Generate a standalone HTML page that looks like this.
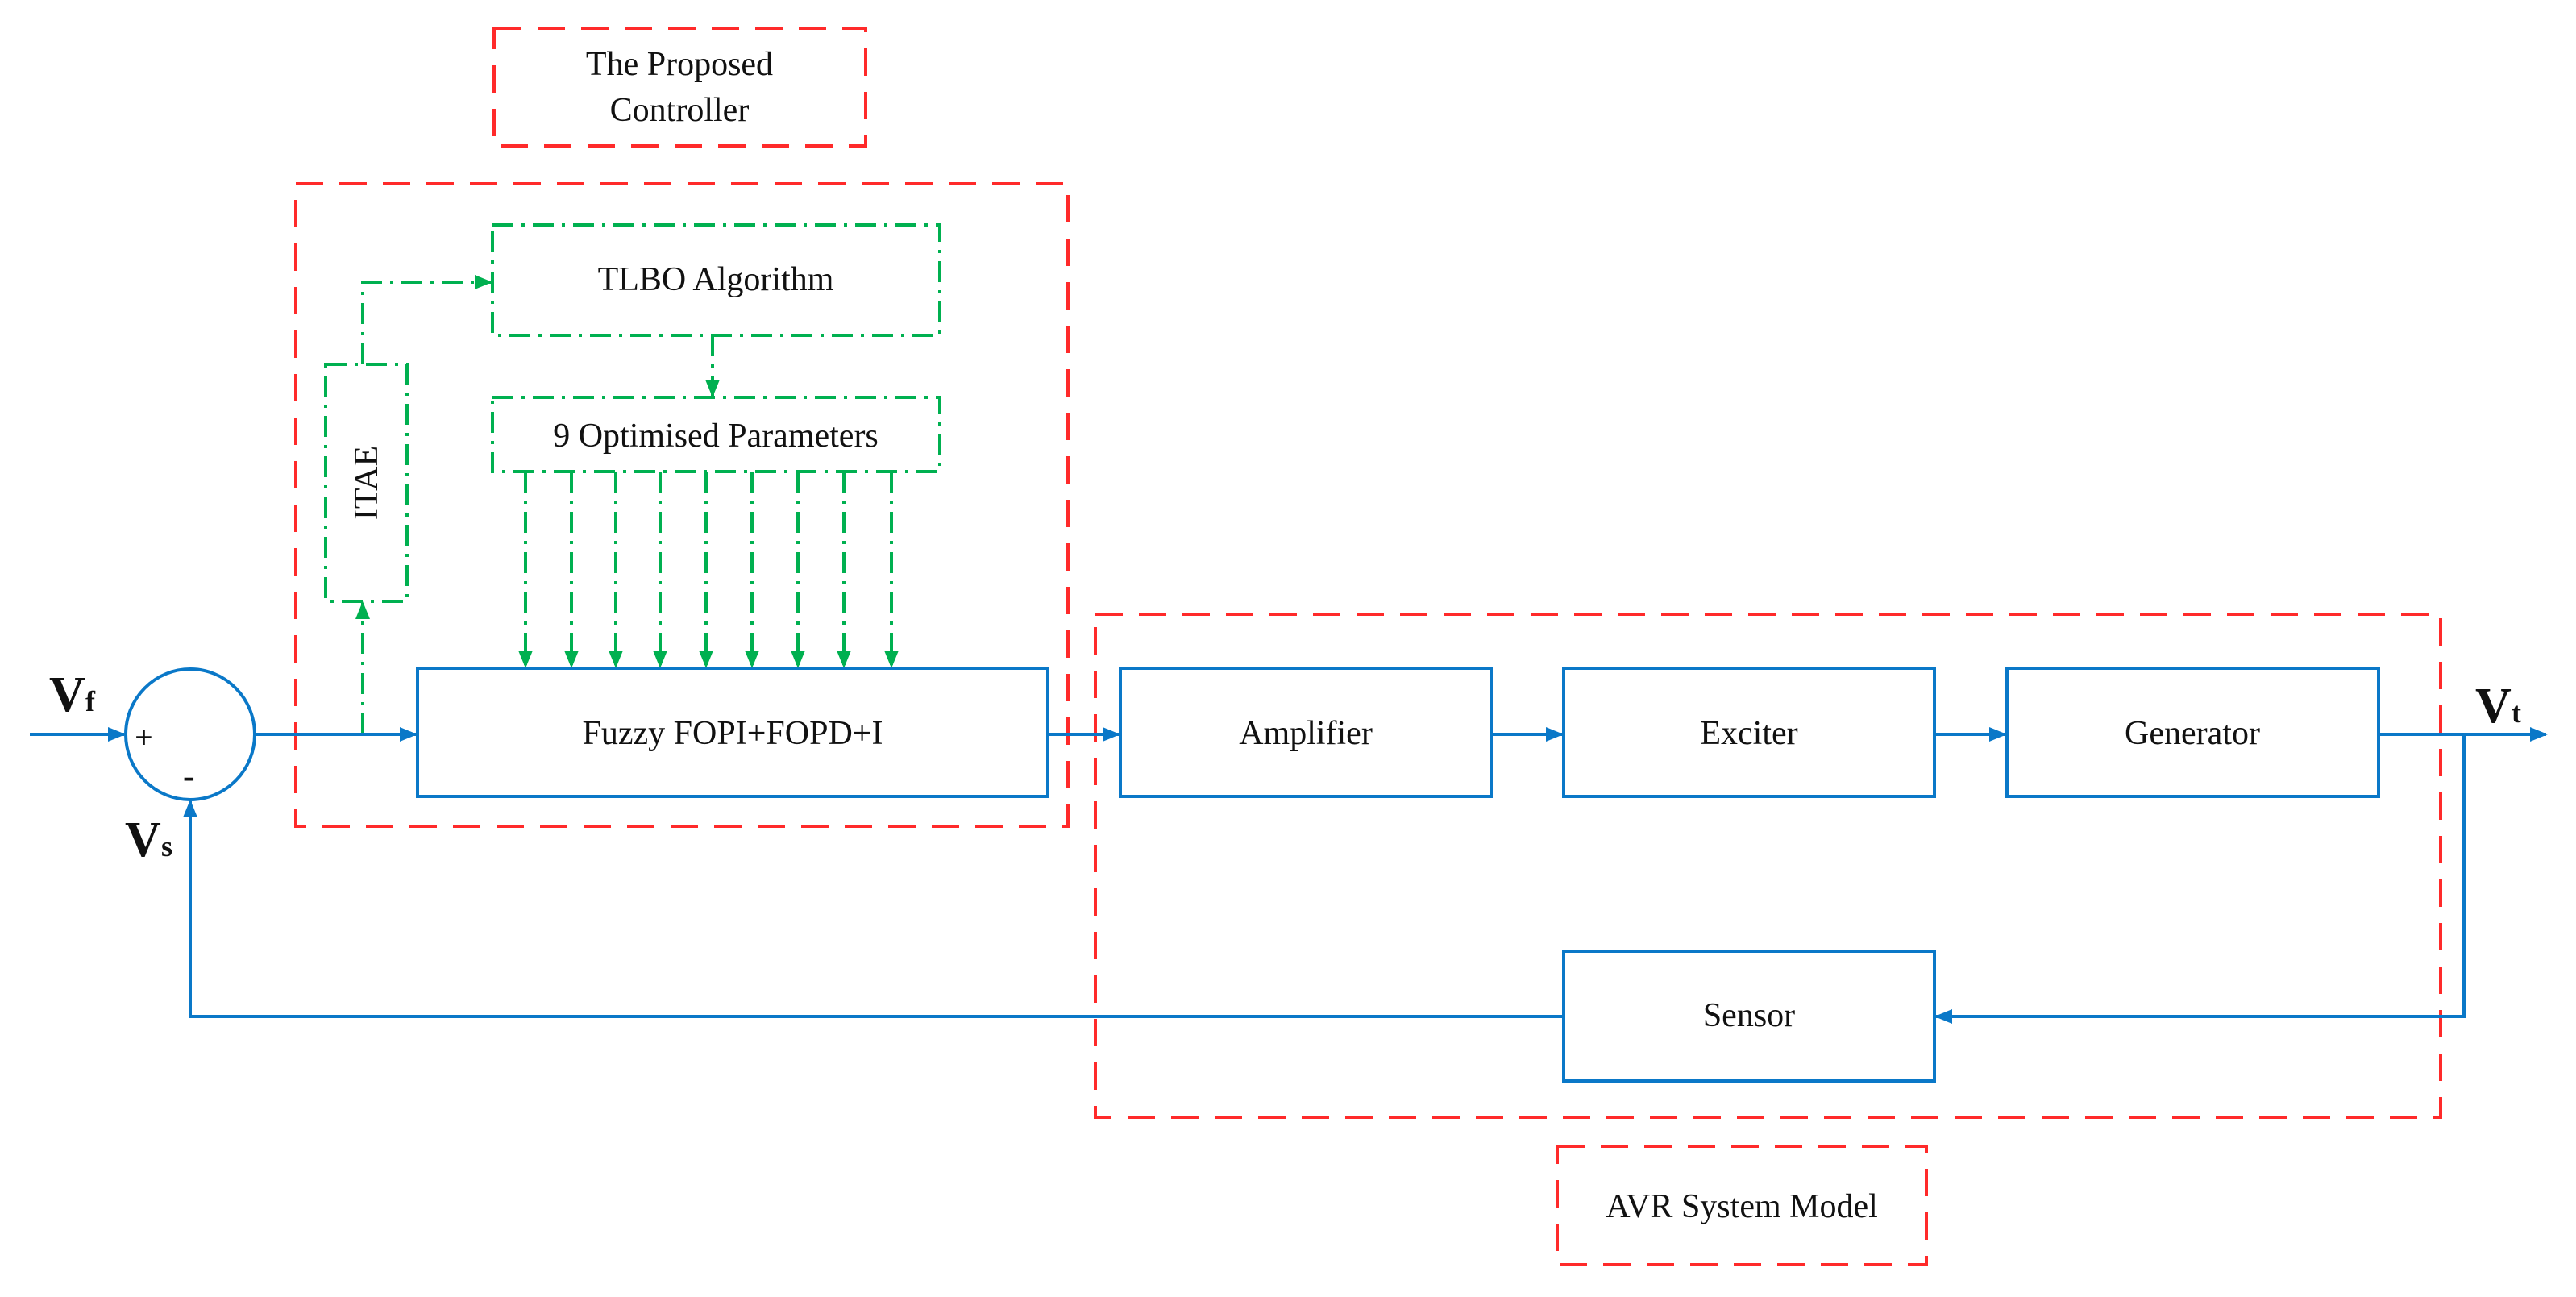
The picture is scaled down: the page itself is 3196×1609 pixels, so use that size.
<!DOCTYPE html>
<html><head><meta charset="utf-8"><style>
html,body{margin:0;padding:0;background:#fff;}
svg{display:block;}
text{font-family:"Liberation Serif",serif;fill:#111;}
</style></head><body>
<svg width="3196" height="1609" viewBox="0 0 3196 1609" xmlns="http://www.w3.org/2000/svg">
<defs>
<marker id="abb" markerWidth="22" markerHeight="22" refX="20" refY="11" orient="auto" markerUnits="userSpaceOnUse"><path d="M0,2 L22,11 L0,20 z" fill="#0a78c8"/></marker>
<marker id="ag" markerWidth="22" markerHeight="22" refX="20" refY="11" orient="auto" markerUnits="userSpaceOnUse"><path d="M0,2 L22,11 L0,20 z" fill="#00b050"/></marker>
</defs>
<g fill="none" stroke="#ff2a2a" stroke-width="4" stroke-dasharray="34,20">
<rect x="613" y="35" width="461" height="146"/>
<rect x="367" y="228" width="958" height="797"/>
<rect x="1359" y="762" width="1669" height="624"/>
<rect x="1932" y="1422" width="458" height="147"/>
</g>
<g fill="none" stroke="#00b050" stroke-width="4" stroke-dasharray="26,10,4,10">
<rect x="611" y="279" width="555" height="137"/>
<rect x="611" y="493" width="555" height="92"/>
<rect x="404" y="452" width="101" height="294"/>
<path d="M450,911 V748" marker-end="url(#ag)"/>
<path d="M450,452 V350 H609" marker-end="url(#ag)"/>
<path d="M884,416 V491" marker-end="url(#ag)"/>
<path d="M652,585 V827" marker-end="url(#ag)"/>
<path d="M709,585 V827" marker-end="url(#ag)"/>
<path d="M764,585 V827" marker-end="url(#ag)"/>
<path d="M819,585 V827" marker-end="url(#ag)"/>
<path d="M876,585 V827" marker-end="url(#ag)"/>
<path d="M933,585 V827" marker-end="url(#ag)"/>
<path d="M990,585 V827" marker-end="url(#ag)"/>
<path d="M1047,585 V827" marker-end="url(#ag)"/>
<path d="M1106,585 V827" marker-end="url(#ag)"/>
</g>
<g fill="none" stroke="#0a78c8" stroke-width="4">
<rect x="518" y="829" width="782" height="159"/>
<rect x="1390" y="829" width="460" height="159"/>
<rect x="1940" y="829" width="460" height="159"/>
<rect x="2490" y="829" width="461" height="159"/>
<rect x="1940" y="1180" width="460" height="161"/>
<ellipse cx="236" cy="911" rx="80" ry="81"/>
<path d="M37,911 H154" marker-end="url(#abb)"/>
<path d="M316,911 H516" marker-end="url(#abb)"/>
<path d="M1300,911 H1388" marker-end="url(#abb)"/>
<path d="M1850,911 H1938" marker-end="url(#abb)"/>
<path d="M2400,911 H2488" marker-end="url(#abb)"/>
<path d="M2951,911 H3159" marker-end="url(#abb)"/>
<path d="M3057,911 V1261 H2402" marker-end="url(#abb)"/>
<path d="M1940,1261 H236 V994" marker-end="url(#abb)"/>
</g>
<g font-size="42" text-anchor="middle">
<text x="843" y="93">The Proposed</text>
<text x="843" y="150">Controller</text>
<text x="888" y="360">TLBO Algorithm</text>
<text x="888" y="554">9 Optimised Parameters</text>
<text x="909" y="923">Fuzzy FOPI+FOPD+I</text>
<text x="1620" y="923">Amplifier</text>
<text x="2170" y="923">Exciter</text>
<text x="2720" y="923">Generator</text>
<text x="2170" y="1273">Sensor</text>
<text x="2161" y="1510">AVR System Model</text>
<text transform="translate(468,599) rotate(-90)">ITAE</text>
</g>
<g font-weight="bold">
<text x="61" y="882" font-size="62">V</text><text x="106" y="882" font-size="36">f</text>
<text x="155" y="1062" font-size="62">V</text><text x="200" y="1062" font-size="36">s</text>
<text x="3071" y="896" font-size="62">V</text><text x="3116" y="896" font-size="36">t</text>
<text x="167" y="928" font-size="40">+</text>
<text x="227" y="977" font-size="44">-</text>
</g>
</svg>
</body></html>
